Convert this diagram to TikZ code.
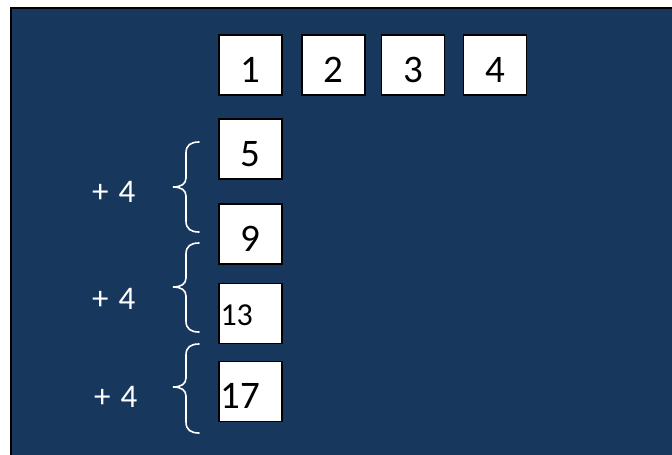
\documentclass[tikz,border=0pt]{standalone}
\usepackage{fontspec}
\setmainfont{Carlito}
\definecolor{navy}{HTML}{17375D}
\newcommand\mybrace[3]{%
  \draw[bracestyle] (199,#1) .. controls (191,#1) and (186,#1+3) .. (186,#1+11)
    -- (186,#2-9) .. controls (186,#2-3) and (181,#2) .. (173,#2)
    .. controls (181,#2) and (186,#2+3) .. (186,#2+9)
    -- (186,#3-11) .. controls (186,#3-3) and (191,#3) .. (199,#3);}
\begin{document}
\begin{tikzpicture}[x=1pt,y=-1pt,
  numbox/.style={draw=black, line width=1.5pt, fill=white, minimum width=63pt,
    minimum height=60pt, inner sep=0pt, text=black,
    font=\fontsize{39}{39}\selectfont, text height=34pt, text depth=0pt},
  leftbox/.style={numbox, text width=60pt, align=left},
  plusfour/.style={text=white, font=\fontsize{33}{33}\selectfont, anchor=base west, inner sep=0pt},
  bracestyle/.style={draw=white, line width=1.6pt, line cap=round}]
\useasboundingbox (0,0) rectangle (672,455);
\fill[white] (0,0) rectangle (672,455);
\draw[fill=navy, draw=black, line width=1.5pt] (11,8) rectangle (680,465);
\node[numbox] (n1) at (250.5,65) {1};
\node[numbox] (n2) at (333.5,65) {2};
\node[numbox] (n3) at (413,65) {3};
\node[numbox] (n4) at (495,65) {4};
\node[numbox] (n5) at (250.5,149) {5};
\node[numbox] (n9) at (250.5,234) {9};
\node[leftbox, font=\fontsize{32}{32}\selectfont, text height=23pt] (n13) at (250.5,313.5) {13};
\node[leftbox, text height=33pt] (n17) at (250.5,391.5) {17};
\node[plusfour] (p1) at (92,202) {+\hspace{0.3em}4};
\node[plusfour] (p2) at (92,309) {+\hspace{0.3em}4};
\node[plusfour] (p3) at (94,407) {+\hspace{0.3em}4};
\mybrace{142}{187}{232}
\mybrace{243}{287}{332}
\mybrace{344}{387}{433}
\end{tikzpicture}
\end{document}
